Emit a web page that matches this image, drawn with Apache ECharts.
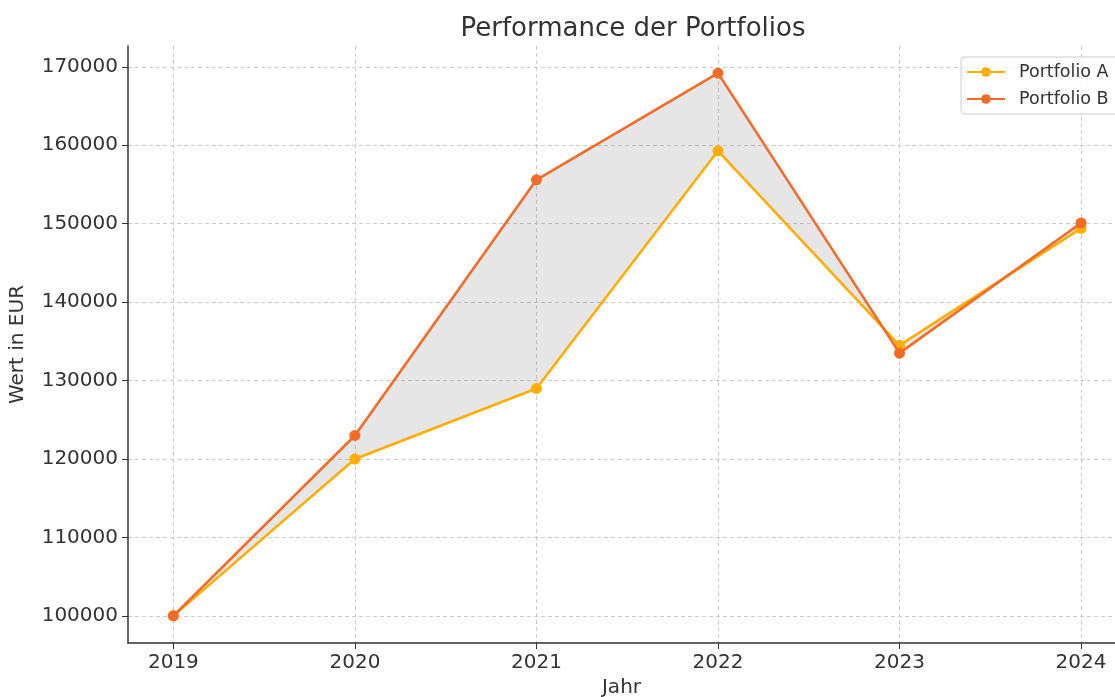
<!DOCTYPE html>
<html>
<head>
<meta charset="utf-8">
<script src="https://cdn.jsdelivr.net/npm/echarts@6/dist/echarts.min.js"></script>
<style>html,body{margin:0;padding:0;background:#fff}#c{width:1115px;height:697px}</style>
</head>
<body>
<div id="c"></div>
<script>
const years = [2019, 2020, 2021, 2022, 2023, 2024];
const portfolioA = [100000, 120000, 129000, 159300, 134500, 149400];
const portfolioB = [100000, 123000, 155600, 169200, 133500, 150100];
const yTicks = [100000, 110000, 120000, 130000, 140000, 150000, 160000, 170000];
const seriesNames = ['Portfolio A', 'Portfolio B'];
const colors = ['#FFAD00', '#F46B27'];

const font = 'DejaVu Sans';
const chart = echarts.init(document.getElementById('c'), null, {renderer: 'canvas'});

const pairs = arr => years.map((y, i) => [y, arr[i]]);

chart.setOption({
  animation: false,
  backgroundColor: '#fff',
  textStyle: {fontFamily: font},
  title: {
    text: 'Performance der Portfolios',
    left: 628, top: 11, textAlign: 'center',
    textStyle: {fontFamily: font, fontSize: 26, fontWeight: 'normal', color: '#333'}
  },
  legend: {
    data: seriesNames,
    orient: 'vertical',
    left: 961, top: 57,
    padding: [6, 40, 6, 5],
    itemGap: 9,
    itemWidth: 38, itemHeight: 12,
    borderColor: '#ccc', borderWidth: 1, borderRadius: 4,
    backgroundColor: 'rgba(255,255,255,0.8)',
    textStyle: {fontFamily: font, fontSize: 17.5, color: '#333', padding: [0, 0, 0, 9]}
  },
  grid: {left: 128, right: 0, top: 46, bottom: 54, containLabel: false, outerBoundsMode: 'none'},
  xAxis: {
    type: 'value', min: 2018.75, max: 2024.187,
    name: 'Jahr', nameLocation: 'middle', nameGap: 33,
    nameTextStyle: {fontFamily: font, fontSize: 20, color: '#333'},
    axisLine: {show: true, lineStyle: {color: '#333', width: 1.5}},
    axisTick: {show: true, customValues: years, length: 6, lineStyle: {color: '#333'}},
    axisLabel: {customValues: years, fontFamily: font, fontSize: 20, color: '#333', margin: 10, formatter: v => String(v)},
    splitLine: {show: true, lineStyle: {color: '#cccccc', type: [4, 3], width: 1}}
  },
  yAxis: {
    type: 'value', min: 96540, max: 172660,
    name: 'Wert in EUR', nameLocation: 'middle', nameGap: 100, nameRotate: 90,
    nameTextStyle: {fontFamily: font, fontSize: 20, color: '#333'},
    axisLine: {show: true, lineStyle: {color: '#333', width: 1.5}},
    axisTick: {show: true, customValues: yTicks, length: 6, lineStyle: {color: '#333'}},
    axisLabel: {customValues: yTicks, fontFamily: font, fontSize: 20, color: '#333', margin: 10, formatter: v => String(v)},
    splitLine: {show: true, lineStyle: {color: '#cccccc', type: [4, 3], width: 1}}
  },
  series: [
    {
      type: 'custom',
      name: 'fill',
      silent: true,
      z: 1,
      data: [[0]],
      renderItem: function (params, api) {
        const pts = [];
        years.forEach((y, i) => pts.push(api.coord([y, portfolioA[i]])));
        for (let i = years.length - 1; i >= 0; i--) pts.push(api.coord([years[i], portfolioB[i]]));
        return {type: 'polygon', shape: {points: pts}, style: {fill: 'rgba(128,128,128,0.2)'}, z2: 0};
      }
    },
    {
      type: 'line', name: seriesNames[0], data: pairs(portfolioA),
      symbol: 'circle', symbolSize: 11, z: 3,
      itemStyle: {color: colors[0]},
      lineStyle: {color: colors[0], width: 2.6}
    },
    {
      type: 'line', name: seriesNames[1], data: pairs(portfolioB),
      symbol: 'circle', symbolSize: 11, z: 4,
      itemStyle: {color: colors[1]},
      lineStyle: {color: colors[1], width: 2.6}
    }
  ]
});
</script>
</body>
</html>
